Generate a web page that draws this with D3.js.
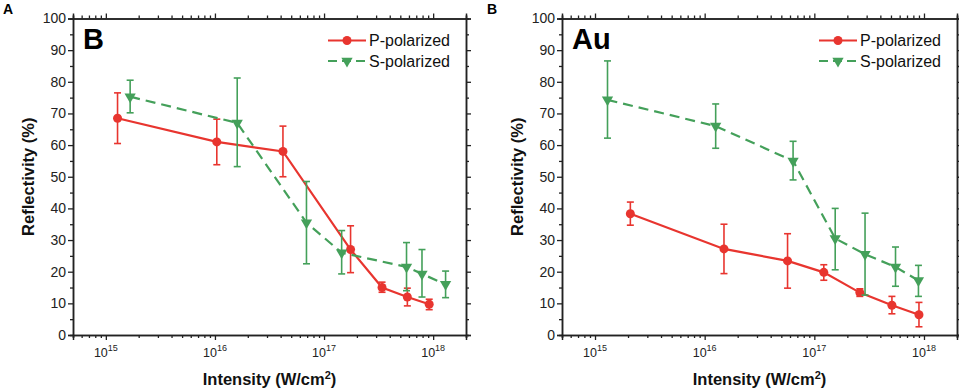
<!DOCTYPE html>
<html>
<head>
<meta charset="utf-8">
<script src="https://cdn.jsdelivr.net/npm/d3@7"></script>
<style>
  body { margin: 0; background: #fff; }
  svg { display: block; font-family: "Liberation Sans", Arial, sans-serif; }
</style>
</head>
<body>
<div id="wrapper"></div>
<script>
// panel A (B target)
const pIntensityA = [1.28e15, 1.04e16, 4.2e16, 1.75e17, 3.4e17, 5.8e17, 9.2e17];
const pReflA      = [68.5, 61, 58, 27, 15, 12, 9.7];
const pLowA       = [60.5, 53.8, 50, 19.7, 13.5, 9.2, 8];
const pHighA      = [76.5, 68.2, 66, 34.5, 16.7, 14.8, 11.3];

const sIntensityA = [1.67e15, 1.6e16, 6.9e16, 1.45e17, 5.7e17, 7.9e17, 1.3e18];
const sReflA      = [75.3, 67, 35.5, 26, 21.5, 19.3, 16];
const sLowA       = [70.2, 53.2, 22.5, 19.3, 14, 12, 11.8];
const sHighA      = [80.5, 81.2, 48.5, 33, 29.2, 27, 20.2];

// panel B (Au target)
const pIntensityB = [2.1e15, 1.5e16, 5.7e16, 1.22e17, 2.6e17, 5.1e17, 9.0e17];
const pReflB      = [38.3, 27.2, 23.4, 19.8, 13.4, 9.4, 6.4];
const pLowB       = [34.7, 19.4, 14.8, 17.3, 12.2, 6.7, 2.6];
const pHighB      = [42, 35, 32, 22.2, 14.6, 12.2, 10.3];

const sIntensityB = [1.3e15, 1.26e16, 6.4e16, 1.55e17, 2.9e17, 5.5e17, 8.9e17];
const sReflB      = [74.3, 66, 55, 30.5, 25.5, 21.5, 17.2];
const sLowB       = [62.2, 59, 49, 20.6, 12.6, 15.4, 12.2];
const sHighB      = [86.6, 73, 61.2, 40, 38.5, 27.8, 22];

const seriesNames = ["P-polarized", "S-polarized"];
const xDomain = [5e14, 2e18];
const xMajor = [1e15, 1e16, 1e17, 1e18];
const yTicks = d3.range(0, 101, 10);

const red = "#e8352f";
const green = "#44a05a";
const axisColor = "#222";

const width = 959, height = 390;

const svg = d3.select("#wrapper")
    .append("svg")
    .attr("width", width)
    .attr("height", height);

function zip(xs, ys, lo, hi) {
    return xs.map((x, i) => ({ x: x, y: ys[i], lo: lo[i], hi: hi[i] }));
}

function drawPanel(opts) {
    const left = opts.left, right = opts.right, top = 18.5, bottom = 335;

    const xScale = d3.scaleLog().domain(xDomain).range([left, right]);
    const yScale = d3.scaleLinear().domain([0, 100]).range([bottom, top]);

    const g = svg.append("g");

    // minor x ticks
    let xMinor = [];
    for (let e = 14; e <= 18; e++) {
        for (let m = 2; m <= 9; m++) {
            const v = m * Math.pow(10, e);
            if (v >= xDomain[0] && v <= xDomain[1]) xMinor.push(v);
        }
    }
    const yMinor = d3.range(5, 100, 10);

    const xb = d3.axisBottom(xScale).tickValues(xMajor).tickSize(5).tickFormat("");
    const xbm = d3.axisBottom(xScale).tickValues(xMinor).tickSize(3).tickFormat("");
    const xt = d3.axisTop(xScale).tickValues(xMajor).tickSize(5).tickFormat("");
    const xtm = d3.axisTop(xScale).tickValues(xMinor).tickSize(3).tickFormat("");
    const yl = d3.axisLeft(yScale).tickValues(yTicks).tickSize(5).tickPadding(2);
    const ylm = d3.axisLeft(yScale).tickValues(yMinor).tickSize(3).tickFormat("");
    const yr = d3.axisRight(yScale).tickValues(yTicks).tickSize(5).tickFormat("");
    const yrm = d3.axisRight(yScale).tickValues(yMinor).tickSize(3).tickFormat("");

    const axes = [
        [xb, `translate(0,${bottom})`], [xbm, `translate(0,${bottom})`],
        [xt, `translate(0,${top})`], [xtm, `translate(0,${top})`],
        [yl, `translate(${left},0)`], [ylm, `translate(${left},0)`],
        [yr, `translate(${right},0)`], [yrm, `translate(${right},0)`]
    ];
    axes.forEach(a => {
        const ag = g.append("g").attr("transform", a[1]).call(a[0]);
        ag.selectAll("path.domain").attr("stroke", axisColor).attr("stroke-width", 1.5);
        ag.selectAll(".tick line").attr("stroke", axisColor).attr("stroke-width", 1.3);
        ag.selectAll(".tick text")
            .attr("fill", "#222")
            .style("font-size", "14px")
            .style("font-family", "'Liberation Sans', Arial, sans-serif");
    });

    // x tick labels with superscript
    xMajor.forEach(v => {
        const t = g.append("text")
            .attr("x", xScale(v))
            .attr("y", bottom + 22)
            .attr("text-anchor", "middle")
            .attr("fill", "#222")
            .style("font-size", "12.5px");
        t.append("tspan").text("10");
        t.append("tspan")
            .attr("dy", -6)
            .style("font-size", "9px")
            .text(Math.round(Math.log10(v)));
    });

    // axis titles
    const xt2 = g.append("text")
        .attr("x", (left + right) / 2)
        .attr("y", 385)
        .attr("text-anchor", "middle")
        .style("font-size", "16.5px")
        .style("font-weight", "bold")
        .attr("fill", "#111");
    xt2.append("tspan").text("Intensity (W/cm");
    xt2.append("tspan").attr("dy", -6).style("font-size", "11px").text("2");
    xt2.append("tspan").attr("dy", 6).text(")");

    g.append("text")
        .attr("transform", `translate(${left - 39},${(top + bottom) / 2}) rotate(-90)`)
        .attr("text-anchor", "middle")
        .style("font-size", "16.5px")
        .style("font-weight", "bold")
        .attr("fill", "#111")
        .text("Reflectivity (%)");

    // panel letter + inner label
    g.append("text")
        .attr("x", opts.letterX)
        .attr("y", 14)
        .style("font-size", "14px")
        .style("font-weight", "bold")
        .text(opts.letter);

    g.append("text")
        .attr("x", left + 10)
        .attr("y", 49)
        .style("font-size", "29px")
        .style("font-weight", "bold")
        .text(opts.title);

    const series = [
        { data: opts.p, color: red, dash: null, marker: "circle" },
        { data: opts.s, color: green, dash: "10,6", marker: "tri" }
    ];

    const line = d3.line()
        .x(d => xScale(d.x))
        .y(d => yScale(d.y));

    const tri = d3.symbol().type(d3.symbolTriangle).size(55);

    series.forEach(s => {
        const sg = g.append("g");
        sg.append("path")
            .datum(s.data)
            .attr("d", line)
            .attr("fill", "none")
            .attr("stroke", s.color)
            .attr("stroke-width", 2.2)
            .attr("stroke-dasharray", s.dash);

        // error bars
        const eb = sg.selectAll(".err").data(s.data).enter().append("g");
        eb.append("line")
            .attr("x1", d => xScale(d.x)).attr("x2", d => xScale(d.x))
            .attr("y1", d => yScale(d.lo)).attr("y2", d => yScale(d.hi))
            .attr("stroke", s.color).attr("stroke-width", 1.6);
        ["lo", "hi"].forEach(k => {
            eb.append("line")
                .attr("x1", d => xScale(d.x) - 3.5).attr("x2", d => xScale(d.x) + 3.5)
                .attr("y1", d => yScale(d[k])).attr("y2", d => yScale(d[k]))
                .attr("stroke", s.color).attr("stroke-width", 1.6);
        });

        if (s.marker === "circle") {
            sg.selectAll(".pt").data(s.data).enter().append("circle")
                .attr("cx", d => xScale(d.x))
                .attr("cy", d => yScale(d.y))
                .attr("r", 4.5)
                .attr("fill", s.color);
        } else {
            sg.selectAll(".pt").data(s.data).enter().append("path")
                .attr("d", tri)
                .attr("transform", d => `translate(${xScale(d.x)},${yScale(d.y)}) rotate(180)`)
                .attr("fill", s.color);
        }
    });

    // legend
    const lx = right - 97;
    series.forEach((s, i) => {
        const ly = top + 22 + i * 20.5;
        const lg = g.append("g");
        lg.append("line")
            .attr("x1", lx - 41).attr("x2", lx - 3)
            .attr("y1", ly).attr("y2", ly)
            .attr("stroke", s.color).attr("stroke-width", 2.2)
            .attr("stroke-dasharray", s.dash ? "9,5" : null);
        if (s.marker === "circle") {
            lg.append("circle").attr("cx", lx - 22).attr("cy", ly).attr("r", 4.5).attr("fill", s.color);
        } else {
            lg.append("path").attr("d", tri)
                .attr("transform", `translate(${lx - 22},${ly}) rotate(180)`)
                .attr("fill", s.color);
        }
        lg.append("text")
            .attr("x", lx)
            .attr("y", ly + 5.5)
            .style("font-size", "16px")
            .attr("fill", "#111")
            .text(seriesNames[i]);
    });
}

drawPanel({
    left: 73, right: 466, letter: "A", letterX: 3, title: "B",
    p: zip(pIntensityA, pReflA, pLowA, pHighA),
    s: zip(sIntensityA, sReflA, sLowA, sHighA)
});

drawPanel({
    left: 562, right: 957, letter: "B", letterX: 487, title: "Au",
    p: zip(pIntensityB, pReflB, pLowB, pHighB),
    s: zip(sIntensityB, sReflB, sLowB, sHighB)
});
</script>
</body>
</html>
